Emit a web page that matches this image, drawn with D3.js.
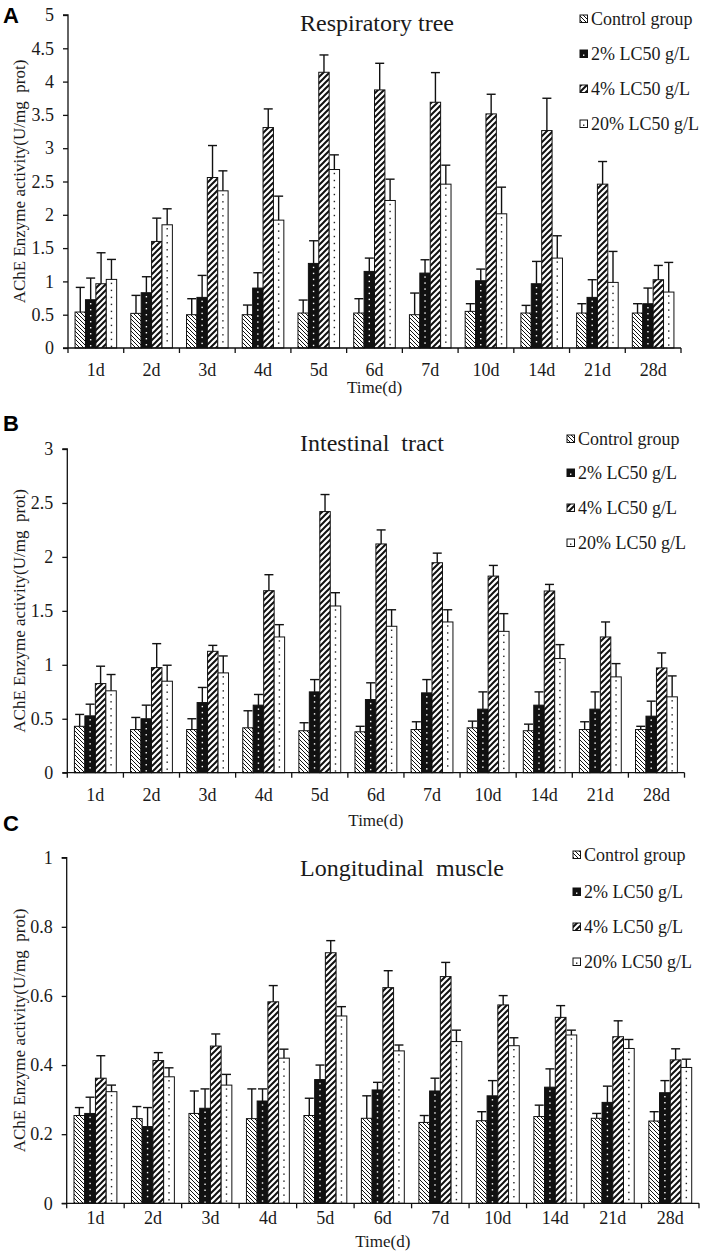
<!DOCTYPE html>
<html><head><meta charset="utf-8">
<script src="https://cdn.jsdelivr.net/npm/d3@7"></script>
<style>
body{margin:0;background:#fff}
svg{display:block}
svg text{font-family:"Liberation Serif","Times New Roman",serif !important;fill:#1a1a1a}
svg text.letter{font-family:"Liberation Sans",Arial,sans-serif !important;fill:#000}
</style>
</head><body>
<svg id="chart" width="706" height="1259"></svg>
<script>
// ---------------- DATA ----------------
const categories = ["1d","2d","3d","4d","5d","6d","7d","10d","14d","21d","28d"];
const seriesNames = ["Control group","2% LC50 g/L","4% LC50 g/L","20% LC50 g/L"];

// A: Respiratory tree (mean, SD)
const respControl = [0.54,0.52,0.50,0.50,0.525,0.525,0.50,0.55,0.525,0.525,0.525];
const resp2  = [0.725,0.83,0.76,0.90,1.27,1.15,1.125,1.01,0.965,0.76,0.665];
const resp4  = [0.965,1.60,2.56,3.31,4.14,3.875,3.69,3.515,3.265,2.46,1.025];
const resp20 = [1.03,1.85,2.36,1.92,2.68,2.215,2.46,2.015,1.35,0.985,0.84];
const respControlSD = [0.37,0.27,0.24,0.145,0.195,0.215,0.325,0.115,0.115,0.14,0.14];
const resp2SD  = [0.325,0.24,0.33,0.23,0.34,0.20,0.20,0.175,0.335,0.265,0.235];
const resp4SD  = [0.465,0.35,0.48,0.28,0.26,0.40,0.445,0.295,0.485,0.34,0.215];
const resp20SD = [0.30,0.24,0.30,0.36,0.22,0.32,0.285,0.40,0.335,0.465,0.445];

// B: Intestinal tract
const intControl = [0.43,0.40,0.40,0.416,0.389,0.379,0.40,0.416,0.389,0.40,0.40];
const int2  = [0.527,0.50,0.65,0.626,0.749,0.678,0.74,0.589,0.626,0.589,0.524];
const int4  = [0.826,0.974,1.125,1.687,2.42,2.12,1.946,1.822,1.684,1.258,0.971];
const int20 = [0.759,0.848,0.925,1.258,1.545,1.357,1.397,1.31,1.058,0.888,0.703];
const intControlSD = [0.11,0.112,0.10,0.158,0.074,0.051,0.072,0.062,0.061,0.072,0.03];
const int2SD  = [0.108,0.126,0.14,0.099,0.114,0.155,0.123,0.16,0.123,0.16,0.139];
const int4SD  = [0.161,0.222,0.055,0.148,0.158,0.13,0.089,0.099,0.061,0.139,0.139];
const int20SD = [0.151,0.148,0.157,0.114,0.123,0.153,0.113,0.164,0.129,0.123,0.194];

// C: Longitudinal muscle
const musControl = [0.254,0.245,0.26,0.245,0.254,0.246,0.234,0.239,0.251,0.246,0.238];
const mus2  = [0.26,0.222,0.275,0.296,0.358,0.328,0.325,0.311,0.336,0.292,0.32];
const mus4  = [0.362,0.413,0.455,0.583,0.725,0.624,0.656,0.574,0.538,0.482,0.415];
const mus20 = [0.323,0.366,0.342,0.42,0.542,0.441,0.468,0.456,0.487,0.448,0.393];
const musControlSD = [0.023,0.035,0.065,0.086,0.05,0.065,0.02,0.026,0.033,0.014,0.027];
const mus2SD  = [0.047,0.055,0.056,0.035,0.042,0.022,0.037,0.044,0.053,0.047,0.035];
const mus4SD  = [0.065,0.023,0.035,0.047,0.035,0.049,0.041,0.027,0.034,0.046,0.032];
const mus20SD = [0.019,0.026,0.031,0.026,0.027,0.017,0.033,0.023,0.014,0.026,0.024];

const yTicksA = [0,0.5,1,1.5,2,2.5,3,3.5,4,4.5,5];
const yTicksB = [0,0.5,1,1.5,2,2.5,3];
const yTicksC = [0,0.2,0.4,0.6,0.8,1];

// ---------------- LAYOUT ----------------
const panels = [
  {letter:"A", title:"Respiratory tree", means:[respControl,resp2,resp4,resp20], sds:[respControlSD,resp2SD,resp4SD,resp20SD],
   ticks:yTicksA, x0:68, x1:681, yTop:15, y0:348, catY:376, timeY:393, titleY:31, letterY:23,
   legX:580, legY:[19,54,89,124]},
  {letter:"B", title:"Intestinal  tract", means:[intControl,int2,int4,int20], sds:[intControlSD,int2SD,int4SD,int20SD],
   ticks:yTicksB, x0:67.3, x1:684.5, yTop:449, y0:772.7, catY:801, timeY:826, titleY:451, letterY:431,
   legX:567, legY:[439,473,508,543]},
  {letter:"C", title:"Longitudinal  muscle", means:[musControl,mus2,mus4,mus20], sds:[musControlSD,mus2SD,mus4SD,mus20SD],
   ticks:yTicksC, x0:66.7, x1:699, yTop:857.7, y0:1203.3, catY:1224, timeY:1247, titleY:876, letterY:831,
   legX:573, legY:[855,892,927,962]}
];

const svg = d3.select("#chart");
const defs = svg.append("defs");

// patterns
const pc = defs.append("pattern").attr("id","pCtrl").attr("patternUnits","userSpaceOnUse").attr("width",4).attr("height",4);
pc.append("rect").attr("width",4).attr("height",4).attr("fill","#fff");
pc.append("path").attr("d","M-1,-1 L5,5 M-1,3 L1,5 M3,-1 L5,1").attr("stroke","#111").attr("stroke-width",1);

const p4 = defs.append("pattern").attr("id","p4").attr("patternUnits","userSpaceOnUse").attr("width",6).attr("height",6);
p4.append("rect").attr("width",6).attr("height",6).attr("fill","#fff");
p4.append("path").attr("d","M-1,7 L7,-1 M-1,1 L1,-1 M5,7 L7,5").attr("stroke","#111").attr("stroke-width",2);

const fills = ["url(#pCtrl)","#111","url(#p4)","#fff"];
const serif = "'Liberation Serif','Times New Roman',serif";

panels.forEach(p => {
  const g = svg.append("g");
  const yMax = p.ticks[p.ticks.length-1];
  const y = d3.scaleLinear().domain([0,yMax]).range([p.y0,p.yTop]);
  const x = d3.scaleBand().domain(categories).range([p.x0,p.x1]).padding(0);
  const xs = d3.scaleBand().domain(d3.range(4)).range([0,x.bandwidth()]).paddingInner(0).paddingOuter(0.68);

  const rows = [];
  categories.forEach((c,i) => {
    for (let s=0;s<4;s++) rows.push({c, s, v:p.means[s][i], sd:p.sds[s][i]});
  });
  const bw = xs.bandwidth();
  g.selectAll("rect.bar").data(rows).join("rect").attr("class","bar")
    .attr("x", d => x(d.c)+xs(d.s))
    .attr("y", d => y(d.v))
    .attr("width", bw)
    .attr("height", d => p.y0 - y(d.v))
    .attr("fill", d => fills[d.s])
    .attr("stroke","#111").attr("stroke-width",1);
  // dots for 2% (white) and 20% (black)
  rows.filter(d => d.s===1 || d.s===3).forEach(d => {
    const cx = x(d.c)+xs(d.s)+bw/2;
    const top = y(d.v), gap = d.s===1 ? 6 : 7;
    d3.range(top+4, p.y0-1, gap).forEach(cy => {
      g.append("rect").attr("x",cx-0.7).attr("y",cy-0.7).attr("width",1.4).attr("height",1.4)
        .attr("fill", d.s===1 ? "#fff" : "#222");
    });
  });
  // error bars (upper only, centred cap)
  rows.forEach(d => {
    const cx = x(d.c)+xs(d.s)+bw/2;
    const yt = y(d.v+d.sd);
    g.append("line").attr("x1",cx).attr("x2",cx).attr("y1",y(d.v)).attr("y2",yt)
      .attr("stroke","#111").attr("stroke-width",1.4);
    g.append("line").attr("x1",cx-4.5).attr("x2",cx+4.5).attr("y1",yt).attr("y2",yt)
      .attr("stroke","#111").attr("stroke-width",1.4);
  });

  // y axis
  const ya = g.append("g").attr("transform",`translate(${p.x0},0)`)
    .call(d3.axisLeft(y).tickValues(p.ticks).tickSize(5).tickPadding(9).tickFormat(v => String(Math.round(v*10)/10)));
  ya.attr("font-family",null).attr("font-size",null);
  ya.select(".domain").attr("stroke","#111").attr("stroke-width",1.3).attr("d",`M-5,${p.yTop}H0V${p.y0}`);
  ya.selectAll(".tick line").attr("stroke","#111").attr("stroke-width",1.3);
  ya.selectAll(".tick text").style("font-size","18px").style("font-family",serif).attr("fill","#1a1a1a");

  // x axis line + boundary ticks
  g.append("line").attr("x1",p.x0-5).attr("x2",p.x1).attr("y1",p.y0).attr("y2",p.y0).attr("stroke","#111").attr("stroke-width",1.3);
  categories.concat(["end"]).forEach((c,i) => {
    const xx = i < categories.length ? x(c) : p.x1;
    g.append("line").attr("x1",xx).attr("x2",xx).attr("y1",p.y0).attr("y2",p.y0+5).attr("stroke","#111").attr("stroke-width",1.3);
  });
  g.selectAll("text.cat").data(categories).join("text").attr("class","cat")
    .attr("x", c => x(c)+x.bandwidth()/2).attr("y", p.catY)
    .attr("text-anchor","middle").style("font-size","18px").style("font-family",serif).text(c => c);

  g.append("text").attr("x",(p.x0+p.x1)/2).attr("y",p.timeY).attr("text-anchor","middle")
    .style("font-size","17px").style("font-family",serif).text("Time(d)");

  g.append("text").attr("transform",`translate(25,${(p.y0+p.yTop)/2}) rotate(-90)`)
    .attr("text-anchor","middle").style("font-size","17px").style("font-family",serif).style("white-space","pre")
    .text("AChE Enzyme activity(U/mg  prot)");

  g.append("text").attr("x",300).attr("y",p.titleY).style("font-size","24px").style("font-family",serif)
    .style("white-space","pre").text(p.title);

  g.append("text").attr("class","letter").attr("x",3).attr("y",p.letterY).style("font-size","22px")
    .attr("font-weight","bold").text(p.letter);

  // legend
  seriesNames.forEach((n,s) => {
    const ly = p.legY[s];
    g.append("rect").attr("x",p.legX).attr("y",ly-4).attr("width",7.5).attr("height",7.5)
      .attr("fill",fills[s]).attr("stroke","#111").attr("stroke-width",1);
    if (s===1 || s===3) g.append("rect").attr("x",p.legX+3).attr("y",ly+0.5).attr("width",1.4).attr("height",1.4).attr("fill", s===1?"#fff":"#222");
    g.append("text").attr("x",p.legX+11).attr("y",ly+6).style("font-size","18px").style("font-family",serif).text(n);
  });
});
</script>
</body></html>
